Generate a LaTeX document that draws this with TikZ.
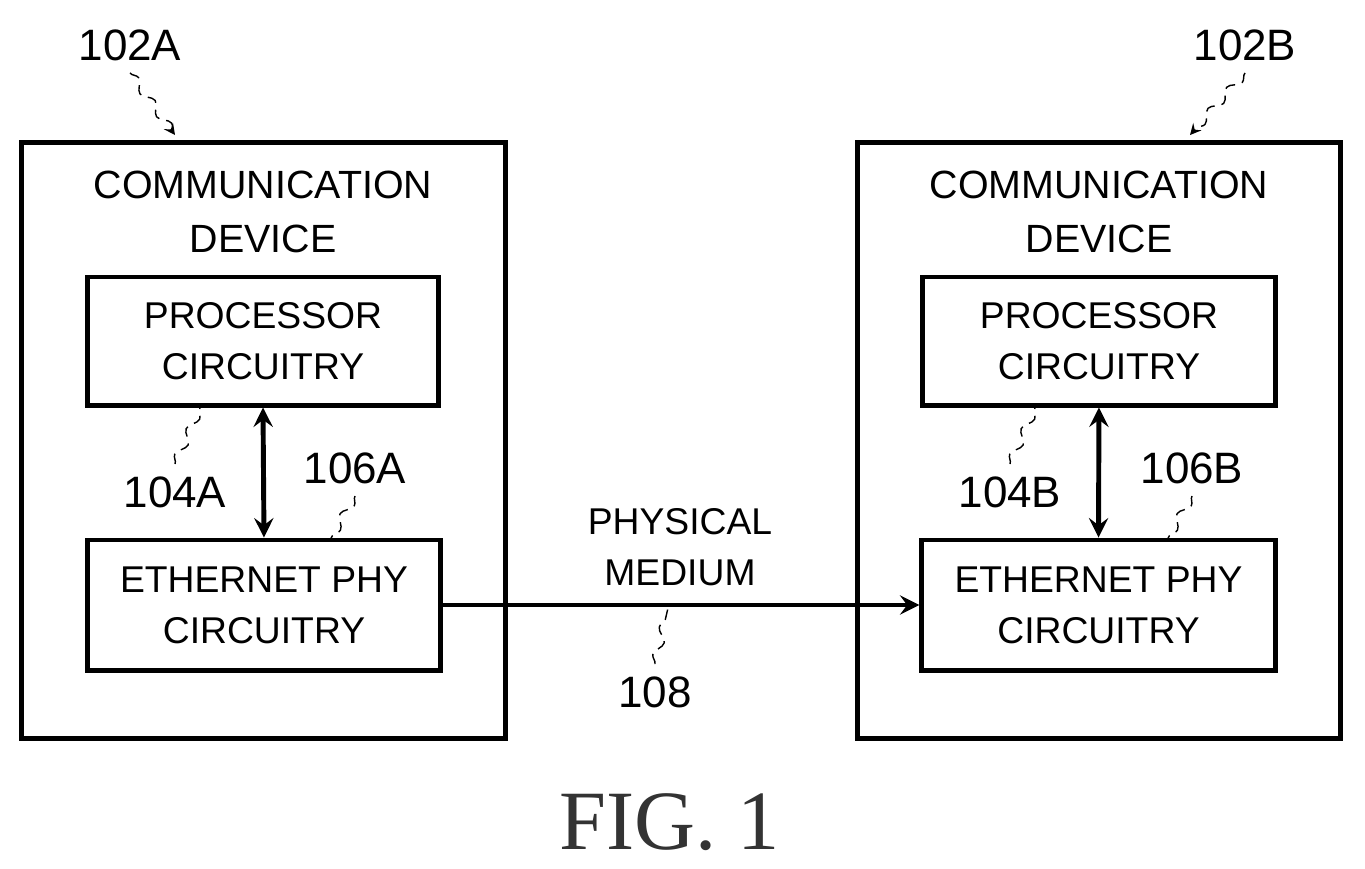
\documentclass[tikz,border=0pt]{standalone}
\usepackage{fontspec}
\setmainfont{Liberation Sans}
\newfontfamily\figfont{Liberation Serif}
\usetikzlibrary{positioning, arrows, decorations.pathmorphing}
\tikzstyle{dev}=[draw, line width=1.4pt, inner sep=0pt]
\tikzstyle{blk}=[draw, line width=1.4pt, align=center, font=\fontsize{10.6}{14.5}\selectfont, inner sep=0pt]
\tikzstyle{lbl}=[font=\fontsize{12.5}{15}\selectfont]
\tikzstyle{lead}=[densely dashed, thin, decorate, decoration={snake, amplitude=1.2pt, segment length=8pt}]
\tikzset{>=stealth}

\begin{document}
\begin{tikzpicture}[x=0.01cm, y=-0.01cm]
\useasboundingbox (0,0) rectangle (1365,869);
% device A
\node[dev, minimum width=4.83cm, minimum height=5.95cm] (DA) at (263.5,440.5) {};
\node[blk, draw=none, font=\fontsize{11.2}{15.5}\selectfont] (TA) at (263,212) {COMMUNICATION\\DEVICE};
\node[blk, minimum width=3.5cm, minimum height=1.28cm] (PA) at (263,341) {PROCESSOR\\CIRCUITRY};
\node[blk, minimum width=3.52cm, minimum height=1.3cm] (EA) at (264,605) {ETHERNET PHY\\CIRCUITRY};
% device B
\node[dev, minimum width=4.82cm, minimum height=5.95cm] (DB) at (1099,440.5) {};
\node[blk, draw=none, font=\fontsize{11.2}{15.5}\selectfont] (TB) at (1099,212) {COMMUNICATION\\DEVICE};
\node[blk, minimum width=3.52cm, minimum height=1.28cm] (PB) at (1099,341) {PROCESSOR\\CIRCUITRY};
\node[blk, minimum width=3.53cm, minimum height=1.3cm] (EB) at (1098.5,605) {ETHERNET PHY\\CIRCUITRY};
% links
\draw[<->, line width=1.4pt] (PA.south) -- (EA.north);
\draw[<->, line width=1.4pt] (PB.south) -- (EB.north);
\draw[->, line width=1.4pt] (EA.east) -- (EB.west);
\node[blk, draw=none] (PM) at (680,547) {PHYSICAL\\MEDIUM};
% reference labels
\node[lbl] (L102A) at (130,45) {102A};
\node[lbl] (L102B) at (1245,45) {102B};
\node[lbl] (L104A) at (175,492) {104A};
\node[lbl] (L106A) at (355,468) {106A};
\node[lbl] (L104B) at (1010,492) {104B};
\node[lbl] (L106B) at (1192,468) {106B};
\node[lbl] (L108) at (655,692) {108};
\coordinate (c102A) at (175,135);
\coordinate (c102B) at (1190,135);
\draw[lead, ->] (L102A.south) -- (c102A);
\draw[lead, ->] (L102B.south) -- (c102B);
\draw[lead] (L104A.north) -- (200,408);
\draw[lead] (L104B.north) -- (1035,408);
\draw[lead] (L106A.south) -- (330,540);
\draw[lead] (L106B.south) -- (1167,540);
\draw[lead] (L108.north) -- (668,608);
\node[font=\fontsize{24}{28}\selectfont\figfont, text=black!80] (fig) at (670,822) {FIG. 1};
\end{tikzpicture}
\end{document}
